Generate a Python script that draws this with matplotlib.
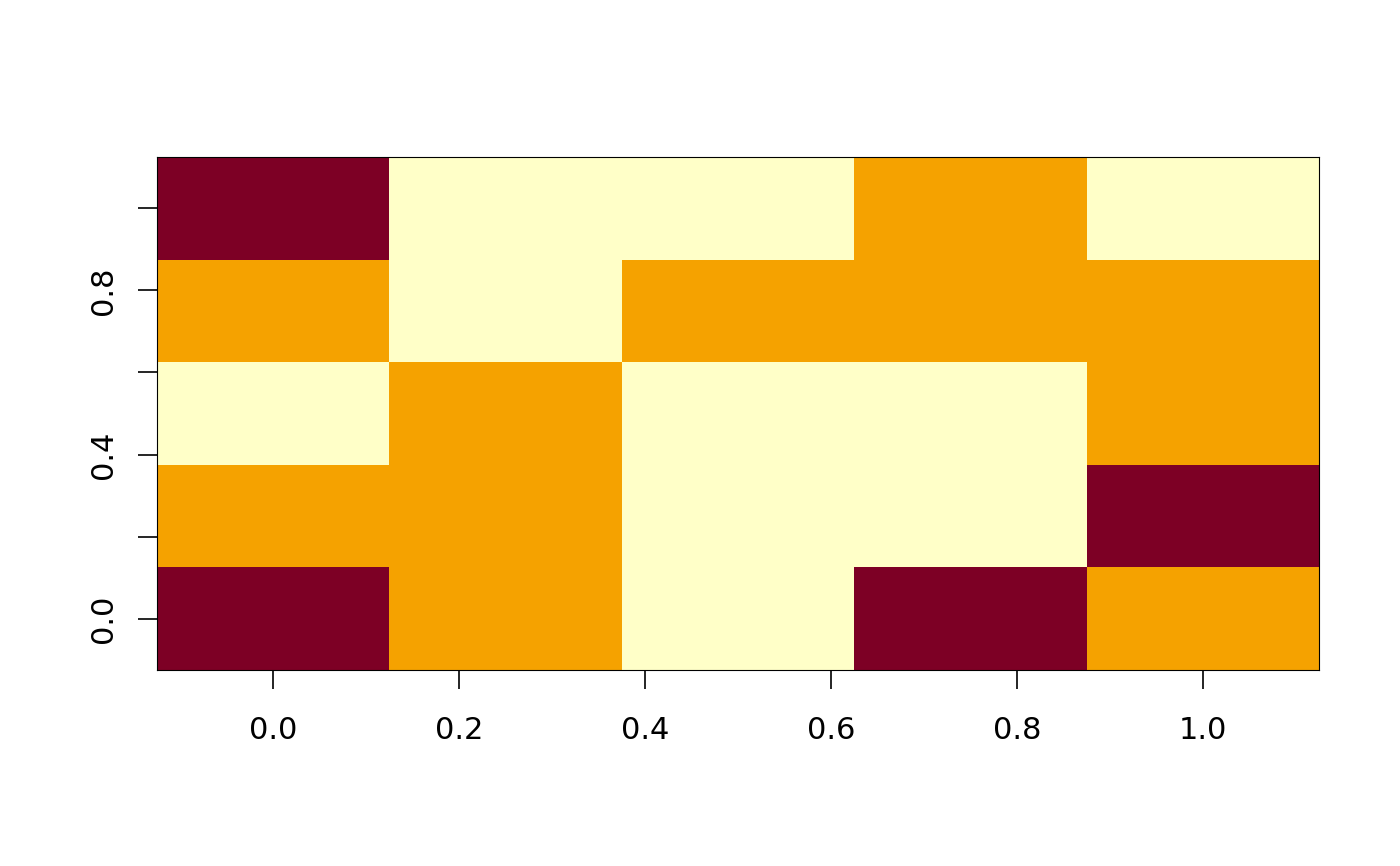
import matplotlib
matplotlib.use("Agg")
import matplotlib.pyplot as plt
import numpy as np
from matplotlib.colors import ListedColormap

x_centers = [0.0, 0.25, 0.5, 0.75, 1.0]
y_centers = [0.0, 0.25, 0.5, 0.75, 1.0]
# rows from y=0 (bottom) to y=1 (top); 0=dark red, 1=orange, 2=light yellow
row_y000 = [0, 1, 2, 0, 1]
row_y025 = [1, 1, 2, 2, 0]
row_y050 = [2, 1, 2, 2, 1]
row_y075 = [1, 2, 1, 1, 1]
row_y100 = [0, 2, 2, 1, 2]
x_ticks = [0.0, 0.2, 0.4, 0.6, 0.8, 1.0]
x_labels = ["0.0", "0.2", "0.4", "0.6", "0.8", "1.0"]
y_ticks = [0.0, 0.2, 0.4, 0.6, 0.8, 1.0]
y_labels = ["0.0", "", "0.4", "", "0.8", ""]
palette = ["#7D0025", "#F5A200", "#FFFFC8"]

Z = np.array([row_y000, row_y025, row_y050, row_y075, row_y100])

fig = plt.figure(figsize=(14, 8.66), dpi=100)
ax = fig.add_axes([157/1400, 1-670/866, (1319-157)/1400, (670-157)/866])
xe = np.array(x_centers)
ye = np.array(y_centers)
xedges = np.concatenate([[xe[0]-0.125], (xe[:-1]+xe[1:])/2, [xe[-1]+0.125]])
yedges = np.concatenate([[ye[0]-0.125], (ye[:-1]+ye[1:])/2, [ye[-1]+0.125]])
ax.pcolormesh(xedges, yedges, Z, cmap=ListedColormap(palette), vmin=-0.5, vmax=2.5)
ax.set_xlim(xedges[0], xedges[-1])
ax.set_ylim(yedges[0], yedges[-1])
ax.set_xticks(x_ticks)
ax.set_xticklabels(x_labels, fontsize=22)
ax.set_yticks(y_ticks)
ax.set_yticklabels(y_labels, fontsize=22, rotation=90, va="center")
ax.tick_params(length=14, width=1.2)
ax.tick_params(axis="y", pad=14)
ax.tick_params(axis="x", pad=19)
for s in ax.spines.values():
    s.set_linewidth(0.8)
fig.savefig("out.png", dpi=100)
